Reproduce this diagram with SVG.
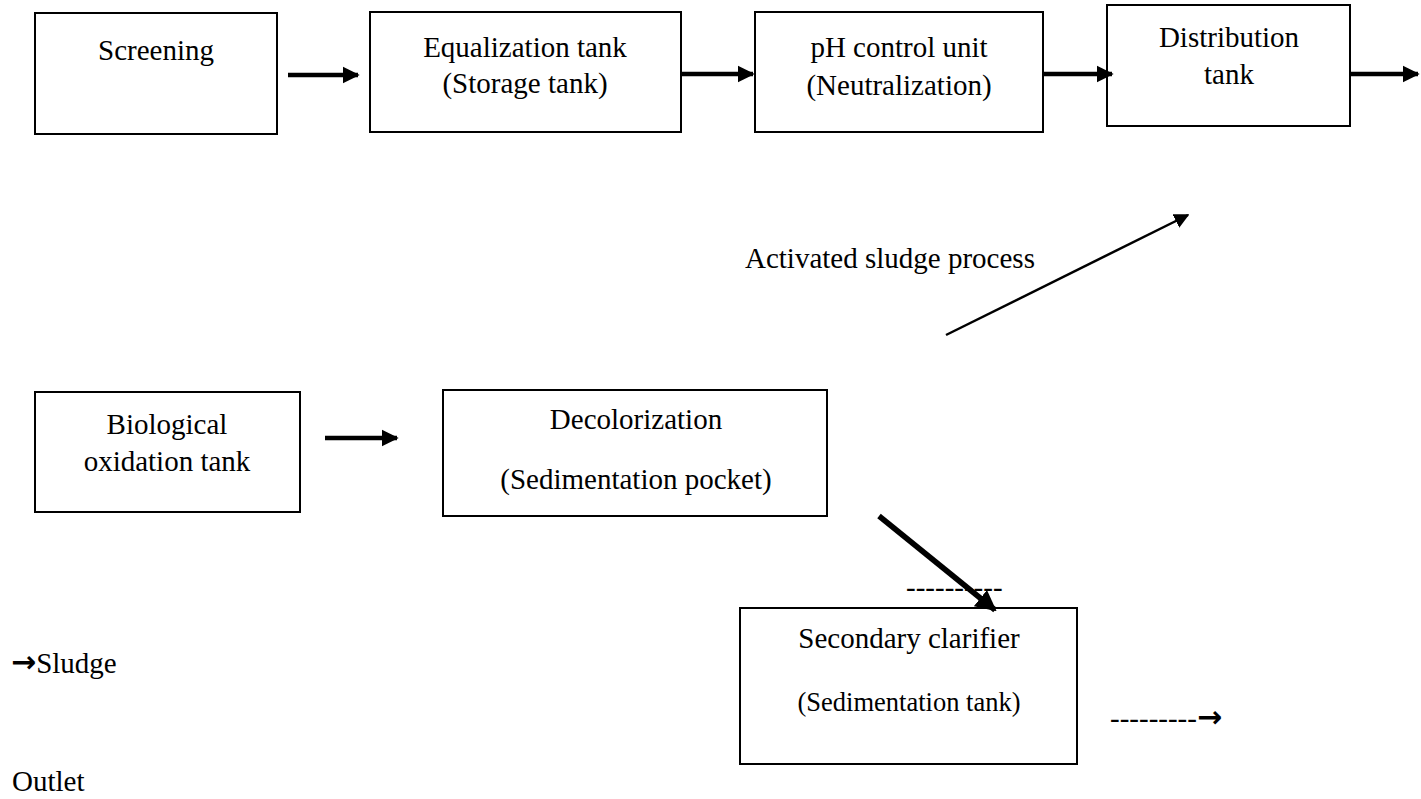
<svg xmlns="http://www.w3.org/2000/svg" width="1421" height="799" viewBox="0 0 1421 799">
  <style>
    .box { fill: #fff; stroke: #000; stroke-width: 2; }
    .lbl { font-family: "Liberation Serif", "Times New Roman", serif; font-size: 29px; fill: #000; text-anchor: middle; }
    .free { font-family: "Liberation Serif", "Times New Roman", serif; font-size: 29px; fill: #000; }
    .sym { font-family: "DejaVu Sans", sans-serif; font-weight: bold; font-size: 30px; }
    .thick { stroke: #000; stroke-width: 4.5; fill: none; }
    .heavy { stroke: #000; stroke-width: 5.5; fill: none; }
    .thin { stroke: #000; stroke-width: 2.5; fill: none; }
  </style>
  <defs>
    <marker id="head" viewBox="0 0 10 10" refX="9" refY="5" markerWidth="3.8" markerHeight="3.8" orient="auto" markerUnits="strokeWidth">
      <path d="M0,0 L10,5 L0,10 z" fill="#000"/>
    </marker>
    <marker id="headThin" viewBox="0 0 10 10" refX="9" refY="5" markerWidth="6" markerHeight="6" orient="auto" markerUnits="strokeWidth">
      <path d="M0,0 L10,5 L0,10 z" fill="#000"/>
    </marker>
  </defs>

  <!-- treatment units -->
  <g id="screening">
    <rect class="box" x="35" y="13" width="242" height="121"/>
    <text class="lbl" x="156" y="60">Screening</text>
  </g>
  <g id="equalization">
    <rect class="box" x="370" y="12" width="311" height="120"/>
    <text class="lbl" x="525" y="57">Equalization tank</text>
    <text class="lbl" x="525" y="93">(Storage tank)</text>
  </g>
  <g id="ph-control">
    <rect class="box" x="755" y="12" width="288" height="120"/>
    <text class="lbl" x="899" y="57">pH control unit</text>
    <text class="lbl" x="899" y="95">(Neutralization)</text>
  </g>
  <g id="distribution">
    <rect class="box" x="1107" y="5" width="243" height="121"/>
    <text class="lbl" x="1229" y="47">Distribution</text>
    <text class="lbl" x="1229" y="84">tank</text>
  </g>
  <g id="biological">
    <rect class="box" x="35" y="392" width="265" height="120"/>
    <text class="lbl" x="167" y="434">Biological</text>
    <text class="lbl" x="167" y="471">oxidation tank</text>
  </g>
  <g id="decolorization">
    <rect class="box" x="443" y="390" width="384" height="126"/>
    <text class="lbl" x="636" y="429">Decolorization</text>
    <text class="lbl" x="636" y="489">(Sedimentation pocket)</text>
  </g>
  <g id="clarifier">
    <rect class="box" x="740" y="608" width="337" height="156"/>
    <text class="lbl" x="909" y="648">Secondary clarifier</text>
    <text class="lbl" x="909" y="711" style="font-size:26.5px">(Sedimentation tank)</text>
  </g>

  <!-- free labels -->
  <g id="labels">
    <text class="free" x="745" y="268">Activated sludge process</text>
    <text class="free" x="906" y="597">----------</text>
    <text class="free" x="1110" y="728">---------<tspan class="sym" dy="-1">→</tspan></text>
    <text class="free" x="11" y="673"><tspan class="sym" dy="-1">→</tspan><tspan dy="1">Sludge</tspan></text>
    <text class="free" x="12" y="791">Outlet</text>
  </g>

  <!-- flow connectors -->
  <g id="connectors">
    <line class="thick" x1="288" y1="75" x2="358" y2="75" marker-end="url(#head)"/>
    <line class="thick" x1="681" y1="74" x2="753" y2="74" marker-end="url(#head)"/>
    <line class="thick" x1="1043" y1="74" x2="1112" y2="74" marker-end="url(#head)"/>
    <line class="thick" x1="1350" y1="74" x2="1418" y2="74" marker-end="url(#head)"/>
    <line class="thick" x1="325" y1="438" x2="397" y2="438" marker-end="url(#head)"/>
    <line class="heavy" x1="879" y1="516" x2="995" y2="610" marker-end="url(#head)"/>
    <line class="thin" x1="946" y1="335" x2="1188" y2="215" marker-end="url(#headThin)"/>
  </g>
</svg>
